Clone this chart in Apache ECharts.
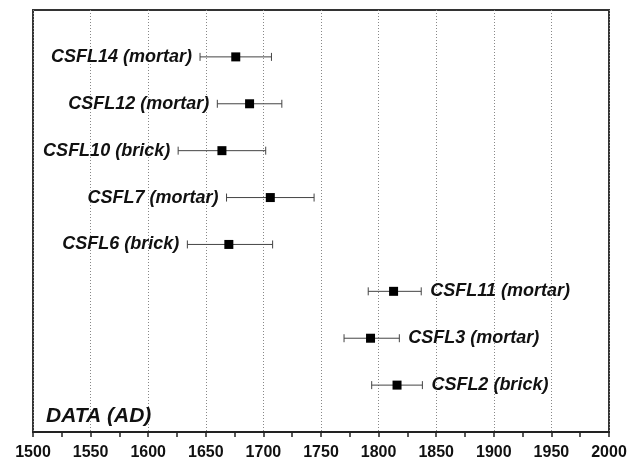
<!DOCTYPE html>
<html>
<head>
<meta charset="utf-8">
<script src="https://cdn.jsdelivr.net/npm/echarts@6/dist/echarts.min.js"></script>
<style>
  html, body { margin: 0; padding: 0; background: #fff; }
  #chart { width: 638px; height: 462px; }
</style>
</head>
<body>
<div id="chart"></div>
<script>
// samples, top to bottom
var names = ['CSFL14 (mortar)', 'CSFL12 (mortar)', 'CSFL10 (brick)', 'CSFL7 (mortar)',
             'CSFL6 (brick)', 'CSFL11 (mortar)', 'CSFL3 (mortar)', 'CSFL2 (brick)'];
var dates = [1676, 1688, 1664, 1706, 1670, 1813, 1793, 1816];
var lower = [1645, 1660, 1626, 1668, 1634, 1791, 1770, 1794];
var upper = [1707, 1716, 1702, 1744, 1708, 1837, 1818, 1838];
var rows = [8, 7, 6, 5, 4, 3, 2, 1];
var labelSide = ['left', 'left', 'left', 'left', 'left', 'right', 'right', 'right'];
var xTicks = [1500, 1550, 1600, 1650, 1700, 1750, 1800, 1850, 1900, 1950, 2000];

var chart = echarts.init(document.getElementById('chart'));

var seriesData = [];
for (var i = 0; i < names.length; i++) {
    seriesData.push([dates[i], lower[i], upper[i], rows[i]]);
}

var font = 'Liberation Sans, Arial, sans-serif';

var option = {
    animation: false,
    title: {
        text: 'DATA (AD)',
        left: 41,
        top: 401,
        textStyle: {
            fontFamily: font,
            fontSize: 21,
            fontWeight: 'bold',
            fontStyle: 'italic',
            color: '#111'
        }
    },
    grid: {
        left: 33, right: 29, top: 10, bottom: 30,
        show: true,
        borderColor: '#333',
        borderWidth: 2
    },
    xAxis: {
        type: 'value',
        min: xTicks[0],
        max: xTicks[xTicks.length - 1],
        interval: 50,
        axisLine: { show: true, onZero: false, lineStyle: { color: '#222', width: 2 } },
        axisTick: { show: true, inside: false, length: 5, lineStyle: { color: '#222', width: 1.5 } },
        minorTick: { show: true, splitNumber: 2, length: 5, lineStyle: { color: '#222', width: 1.5 } },
        axisLabel: {
            fontFamily: font,
            fontSize: 16,
            fontWeight: 'bold',
            color: '#111',
            margin: 13,
            formatter: function (v) { return String(v); }
        },
        splitLine: { show: true, lineStyle: { color: '#888', type: [1, 2], width: 1 } }
    },
    yAxis: {
        type: 'value',
        min: 0,
        max: 9,
        show: false
    },
    series: [{
        type: 'custom',
        data: seriesData,
        renderItem: function (params, api) {
            var y = api.value(3);
            var c = api.coord([api.value(0), y]);
            var lo = api.coord([api.value(1), y]);
            var hi = api.coord([api.value(2), y]);
            var cap = 4;
            var sq = 9;
            var side = labelSide[params.dataIndex];
            return {
                type: 'group',
                children: [
                    { type: 'line', shape: { x1: lo[0], y1: c[1], x2: hi[0], y2: c[1] },
                      style: { stroke: '#444', lineWidth: 1 } },
                    { type: 'line', shape: { x1: lo[0], y1: c[1] - cap, x2: lo[0], y2: c[1] + cap },
                      style: { stroke: '#444', lineWidth: 1 } },
                    { type: 'line', shape: { x1: hi[0], y1: c[1] - cap, x2: hi[0], y2: c[1] + cap },
                      style: { stroke: '#444', lineWidth: 1 } },
                    { type: 'rect', shape: { x: c[0] - sq / 2, y: c[1] - sq / 2, width: sq, height: sq },
                      style: { fill: '#000' } },
                    { type: 'text',
                      x: side === 'left' ? lo[0] - 8 : hi[0] + 9,
                      y: c[1],
                      style: {
                          text: names[params.dataIndex],
                          fontFamily: font,
                          fontSize: 18,
                          fontWeight: 'bold',
                          fontStyle: 'italic',
                          fill: '#111',
                          align: side === 'left' ? 'right' : 'left',
                          verticalAlign: 'middle'
                      } }
                ]
            };
        }
    }]
};
chart.setOption(option);
</script>
</body>
</html>
